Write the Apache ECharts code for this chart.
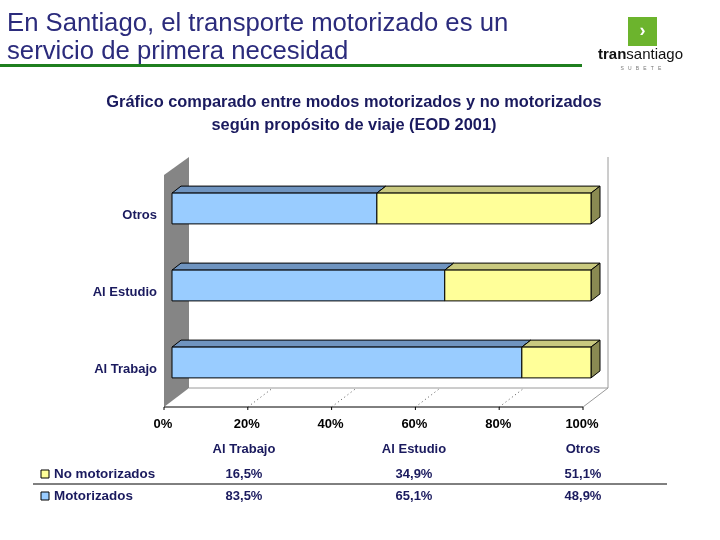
<!DOCTYPE html>
<html><head><meta charset="utf-8">
<script src="https://cdn.jsdelivr.net/npm/echarts@6/dist/echarts.min.js"></script>
<style>html,body{margin:0;padding:0;background:#fff}#c{width:720px;height:540px}</style>
</head><body><div id="c"></div>
<script>
const categories = ['Al Trabajo', 'Al Estudio', 'Otros'];
const motorizados = [83.5, 65.1, 48.9];
const noMotorizados = [16.5, 34.9, 51.1];
const tickLabels = ['0%', '20%', '40%', '60%', '80%', '100%'];
const seriesNames = ['Motorizados', 'No motorizados'];
const pageTitle = ['En Santiago, el transporte motorizado es un', 'servicio de primera necesidad'];
const chartTitle = ['Gráfico comparado entre modos motorizados y no motorizados', 'según propósito de viaje (EOD 2001)'];

const fmt = v => v.toFixed(1).replace('.', ',') + '%';
const NAVY = '#1a1a5e';
const FONT = '"Liberation Sans", Arial, sans-serif';

const DX = 9, DY = -7;      // bar depth
function barRender(front, top, side) {
  return function (params, api) {
    const ci = api.value(0), s = api.value(1), e = api.value(2);
    const p0 = api.coord([s, ci]), p1 = api.coord([e, ci]);
    const h = api.size([0, 1])[1] * 0.4;
    const x0 = p0[0], x1 = p1[0], yt = p0[1] - h / 2, yb = p0[1] + h / 2;
    const st = { stroke: '#000', lineWidth: 1 };
    return { type: 'group', children: [
      { type: 'polygon', shape: { points: [[x0, yt], [x1, yt], [x1 + DX, yt + DY], [x0 + DX, yt + DY]] }, style: Object.assign({ fill: top }, st) },
      { type: 'polygon', shape: { points: [[x1, yt], [x1 + DX, yt + DY], [x1 + DX, yb + DY], [x1, yb]] }, style: Object.assign({ fill: side }, st) },
      { type: 'rect', shape: { x: x0, y: yt, width: x1 - x0, height: yb - yt }, style: Object.assign({ fill: front }, st) }
    ]};
  };
}

function frameRender(params, api) {
  const cs = params.coordSys;
  const x0 = cs.x, x1 = cs.x + cs.width, yt = cs.y, yb = cs.y + cs.height;
  const fx = -8, fy = 6, bx = 17, by = -13;
  const ch = [
    { type: 'polygon', shape: { points: [[x0 + fx, yb + fy], [x0 + fx, yt + 5], [x0 + bx, yt + by], [x0 + bx, yb + by]] }, style: { fill: '#858585' } },
    { type: 'line', shape: { x1: x0 + bx, y1: yb + by, x2: x1 + bx, y2: yb + by }, style: { stroke: '#9a9a9a', lineWidth: 1 } },
    { type: 'line', shape: { x1: x1 + fx, y1: yb + fy, x2: x1 + bx, y2: yb + by }, style: { stroke: '#9a9a9a', lineWidth: 1 } },
    { type: 'line', shape: { x1: x1 + bx, y1: yb + by, x2: x1 + bx, y2: yt + by }, style: { stroke: '#9a9a9a', lineWidth: 1 } },
    { type: 'line', shape: { x1: x0 + fx, y1: yb + fy, x2: x1 + fx, y2: yb + fy }, style: { stroke: '#000', lineWidth: 1 } }
  ];
  for (let i = 1; i < tickLabels.length - 1; i++) {
    const x = api.coord([i * 20, 0])[0];
    ch.push({ type: 'line', shape: { x1: x + fx, y1: yb + fy, x2: x + bx, y2: yb + by }, style: { stroke: '#555', lineWidth: 1, lineDash: [1, 3] } });
  }
  for (let i = 0; i < tickLabels.length; i++) {
    const x = api.coord([i * 20, 0])[0];
    ch.push({ type: 'line', shape: { x1: x + fx, y1: yb + fy, x2: x + fx, y2: yb + fy + 3 }, style: { stroke: '#000', lineWidth: 1 } });
  }
  return { type: 'group', children: ch };
}

const motorData = categories.map((c, i) => [i, 0, motorizados[i]]);
const noMotorData = categories.map((c, i) => [i, motorizados[i], motorizados[i] + noMotorizados[i]]);

// titles, logo and data table
const colX = [244, 414, 583];
const g = [];
pageTitle.forEach((t, i) => g.push({ type: 'text', x: 7, y: 24 + i * 28, style: { text: t, font: '25.7px ' + FONT, fill: '#2b2b7c', verticalAlign: 'middle' } }));
g.push({ type: 'rect', shape: { x: 0, y: 64, width: 582, height: 3 }, style: { fill: '#1f7f1f' } });
g.push({ type: 'rect', shape: { x: 628, y: 17, width: 29, height: 29 }, style: { fill: '#6cb42d' } });
g.push({ type: 'text', x: 642.5, y: 31.5, style: { text: '›', font: 'bold 18px ' + FONT, fill: '#fff', align: 'center', verticalAlign: 'middle' } });
g.push({ type: 'text', x: 598, y: 55, style: { text: '{b|tran}{r|santiago}', verticalAlign: 'middle', rich: { b: { font: 'bold 15px ' + FONT, fill: '#111' }, r: { font: '15px ' + FONT, fill: '#111' } } } });
g.push({ type: 'text', x: 641, y: 69, style: { text: 'S   U   B   E   T   E', font: '5px ' + FONT, fill: '#777', align: 'center', verticalAlign: 'middle' } });
chartTitle.forEach((t, i) => g.push({ type: 'text', x: 354, y: 102 + i * 23, style: { text: t, font: 'bold 16.4px ' + FONT, fill: NAVY, align: 'center', verticalAlign: 'middle' } }));
categories.forEach((c, i) => g.push({ type: 'text', x: colX[i], y: 449, style: { text: c, font: 'bold 13px ' + FONT, fill: NAVY, align: 'center', verticalAlign: 'middle' } }));
const rows = [
  { name: seriesNames[1], vals: noMotorizados, color: '#ffff99', y: 474 },
  { name: seriesNames[0], vals: motorizados, color: '#99ccff', y: 496 }
];
rows.forEach(r => {
  g.push({ type: 'rect', shape: { x: 41, y: r.y - 4, width: 8, height: 8 }, style: { fill: r.color, stroke: '#000', lineWidth: 1 } });
  g.push({ type: 'text', x: 54, y: r.y, style: { text: r.name, font: 'bold 13.4px ' + FONT, fill: NAVY, verticalAlign: 'middle' } });
  r.vals.forEach((v, i) => g.push({ type: 'text', x: colX[i], y: r.y, style: { text: fmt(v), font: 'bold 13px ' + FONT, fill: NAVY, align: 'center', verticalAlign: 'middle' } }));
});
g.push({ type: 'line', shape: { x1: 33, y1: 484, x2: 667, y2: 484 }, style: { stroke: '#000', lineWidth: 1 } });

const chart = echarts.init(document.getElementById('c'), null, { renderer: 'canvas' });
chart.setOption({
  animation: false,
  backgroundColor: '#fff',
  grid: { left: 172, top: 170, width: 419, height: 231 },
  xAxis: {
    type: 'value', min: 0, max: 100, interval: 20,
    axisLine: { show: false }, axisTick: { show: false }, splitLine: { show: false },
    axisLabel: { formatter: v => tickLabels[Math.round(v / 20)], fontWeight: 'bold', fontFamily: FONT, fontSize: 13, color: '#000', margin: 17, padding: [0, 18, 0, 0] }
  },
  yAxis: {
    type: 'category', data: categories,
    axisLine: { show: false }, axisTick: { show: false },
    axisLabel: { fontWeight: 'bold', fontFamily: FONT, fontSize: 13, color: NAVY, margin: 15, verticalAlign: 'top', lineHeight: 13 }
  },
  series: [
    { type: 'custom', name: 'frame', renderItem: frameRender, data: [[0, 0]], encode: { x: 1, y: 0 }, z: 1, silent: true },
    { type: 'custom', name: seriesNames[0], renderItem: barRender('#99ccff', '#6f94c0', '#5a7aa0'), data: motorData, encode: { x: [1, 2], y: 0 }, z: 2 },
    { type: 'custom', name: seriesNames[1], renderItem: barRender('#ffff99', '#c9c97f', '#8a8a52'), data: noMotorData, encode: { x: [1, 2], y: 0 }, z: 3 }
  ],
  graphic: g
});
</script></body></html>
